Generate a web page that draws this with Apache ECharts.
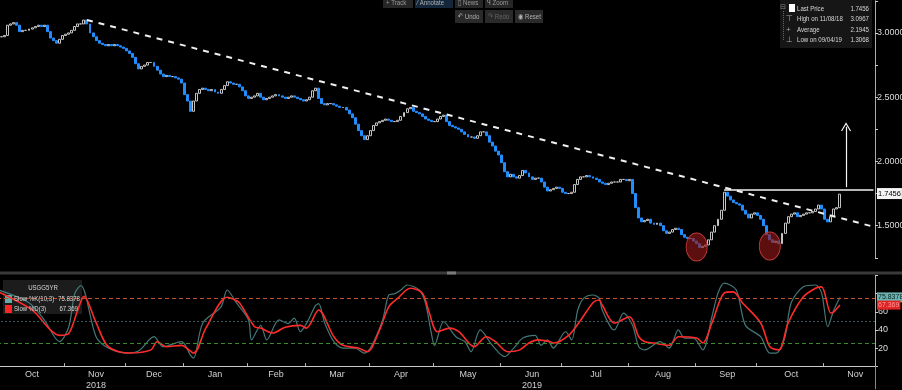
<!DOCTYPE html>
<html><head><meta charset="utf-8">
<script src="https://cdn.jsdelivr.net/npm/echarts@6/dist/echarts.min.js"></script>
<style>html,body{margin:0;padding:0;background:#000;overflow:hidden}#c{width:902px;height:390px}</style>
</head><body><div id="c"></div>
<script>
const FONT = '"Liberation Sans","DejaVu Sans",sans-serif';

// ---- calendar (trading days) ----
const startDate = '2018-10-01';
const endDate = '2019-11-26';
const holidays = ['2018-10-08','2018-11-12','2018-11-22','2018-12-05','2018-12-25','2019-01-01','2019-01-21','2019-02-18','2019-04-19','2019-05-27','2019-07-04','2019-09-02','2019-10-14','2019-11-11'];
const monthNames = ['Jan','Feb','Mar','Apr','May','Jun','Jul','Aug','Sep','Oct','Nov','Dec'];
const yearLabels = {'2018-11':'2018','2019-06':'2019'};

// ---- USGG5YR daily closes ----
const closes = [
2.97,2.97,2.98,3.06,3.07,3.08,3.06,3.01,3.02,3.02,
3.03,3.04,3.05,3.06,3.05,3.06,3.01,2.96,2.94,2.92,
2.95,2.98,2.99,3.00,3.02,3.05,3.07,3.07,3.10,3.07,
3.00,2.97,2.94,2.92,2.91,2.90,2.91,2.90,2.91,2.90,
2.89,2.88,2.86,2.84,2.81,2.76,2.72,2.74,2.75,2.77,
2.77,2.74,2.71,2.68,2.66,2.67,2.66,2.66,2.65,2.64,
2.61,2.52,2.47,2.39,2.47,2.53,2.56,2.57,2.56,2.55,
2.56,2.54,2.53,2.56,2.59,2.62,2.61,2.60,2.60,2.58,
2.55,2.51,2.49,2.50,2.51,2.53,2.50,2.48,2.49,2.50,
2.51,2.52,2.51,2.50,2.49,2.50,2.51,2.50,2.49,2.48,
2.47,2.48,2.50,2.55,2.57,2.49,2.45,2.44,2.45,2.45,
2.44,2.43,2.42,2.42,2.40,2.37,2.34,2.29,2.24,2.20,
2.17,2.20,2.24,2.28,2.30,2.31,2.32,2.33,2.32,2.31,
2.31,2.32,2.35,2.38,2.41,2.42,2.39,2.38,2.37,2.35,
2.33,2.32,2.31,2.31,2.33,2.35,2.36,2.31,2.28,2.27,
2.26,2.25,2.23,2.21,2.19,2.19,2.18,2.20,2.23,2.23,
2.20,2.15,2.12,2.08,2.05,1.99,1.92,1.88,1.90,1.88,
1.87,1.89,1.93,1.91,1.88,1.86,1.87,1.87,1.84,1.80,
1.77,1.78,1.79,1.80,1.79,1.76,1.75,1.75,1.76,1.82,
1.86,1.88,1.88,1.89,1.88,1.87,1.86,1.84,1.83,1.82,
1.83,1.84,1.84,1.84,1.86,1.86,1.85,1.86,1.75,1.64,
1.56,1.53,1.54,1.55,1.52,1.51,1.52,1.50,1.46,1.44,
1.45,1.47,1.48,1.47,1.43,1.41,1.40,1.40,1.38,1.36,
1.33,1.34,1.35,1.39,1.45,1.50,1.55,1.62,1.76,1.73,
1.70,1.68,1.67,1.66,1.62,1.59,1.56,1.59,1.60,1.58,
1.55,1.50,1.43,1.39,1.37,1.38,1.36,1.44,1.52,1.57,
1.59,1.60,1.57,1.58,1.59,1.60,1.60,1.61,1.63,1.66,
1.63,1.55,1.53,1.57,1.63,1.64,1.7456
];

// ---- Slow stochastic: [trading-day index, value] ----
const slowK = [[0,84],[10,70],[15,51],[20,27],[23,43],[25,80],[27,89],[32,32.5],[36,20],[42,14.5],[46,17],[51,32.5],[54,21.5],[60,27],[63,12],[64,9],[67,47.6],[73,65.5],[75,84],[78,70],[82,51],[83,29],[86,45],[88,29],[92,51],[95,47],[97,53],[99,38],[101,47],[104,67],[105,69],[107,47.6],[110,27],[113,20],[117,20],[120,14.5],[122,20],[126,51],[128,78.5],[130,80],[132,84],[134,89.5],[138,84],[140,70],[142,36],[143,23],[146,49],[150,32.5],[153,27],[155,16],[158,40],[162,23],[166,10.5],[169,20],[172,31],[176,34],[178,23],[180,29],[182,20],[186,38],[188,29],[190,62],[192,75],[195,78.5],[197,75],[198,62],[201,42],[202,40],[205,58.6],[208,45],[210,21.5],[212,18],[217,27],[220,20],[223,40],[225,31],[228,31],[231,18],[234,54.5],[236,80.6],[238,91.6],[242,84],[245,45],[250,32.5],[253,14.5],[255,14.5],[258,32.5],[260,70],[264,87.5],[268,89.5],[270,80.6],[272,43.5],[274,62],[276,75.8378]];
const slowD = [[0,82],[11,62],[17,40],[20,34],[23,36],[26,62],[28,77],[32,48],[36,21.5],[43,14.5],[50,18],[52,27],[55,21.5],[60,23],[64,14.5],[68,42],[75,76],[77,74],[79,70],[84,43.5],[86,42],[90,36.6],[94,43],[99,45],[101,42],[105,62],[110,32.5],[113,23],[118,20],[121,16],[125,40],[128,65.5],[131,75],[135,86],[139,80.6],[141,62],[144,38],[148,42],[151,38],[156,21.5],[160,32.5],[163,27],[167,16],[171,18],[174,25.5],[177,29],[181,27],[182,25.5],[187,34],[191,51],[195,70],[197,73],[198,67.5],[202,47.6],[207,54.5],[210,32.5],[212,27],[215,25.5],[220,23],[223,32.5],[229,31],[231,25.5],[234,47.6],[238,80.6],[241,82],[244,70],[250,47.6],[253,21.5],[256,18],[259,47.6],[264,76.5],[268,86],[270,87.5],[273,58.6],[274,60],[276,67.369]];

// ---- annotations (data coordinates) ----
const trendStart = [29, 3.101], trendEnd = [287, 1.492];
const resistance = [[238, 1.776], [287, 1.776]];
const arrowPts = [[278, 1.80], [278, 2.27]];
const lowCircles = [[229, 1.334], [253, 1.342]];
const lastPrice = 1.7456, lastK = 75.8378, lastD = 67.369;
const stochLevels = [75, 50, 25];

// ---- build ----
function tradingDays(s, e, hol) {
  const out = [], h = new Set(hol);
  const d = new Date(s + 'T00:00:00Z'), end = new Date(e + 'T00:00:00Z');
  while (d <= end) {
    const wd = d.getUTCDay(), str = d.toISOString().slice(0, 10);
    if (wd !== 0 && wd !== 6 && !h.has(str)) out.push(str);
    d.setUTCDate(d.getUTCDate() + 1);
  }
  return out;
}
const dates = tradingDays(startDate, endDate, holidays);
const monthStarts = [];
dates.forEach((d, i) => { if (i === 0 || d.slice(0, 7) !== dates[i - 1].slice(0, 7)) monthStarts.push(i); });
const monthStartSet = new Set(monthStarts);
const labelMap = {};
monthStarts.forEach((s, k) => {
  const n = k + 1 < monthStarts.length ? monthStarts[k + 1] : s + 20;
  const mid = Math.floor((s + n) / 2);
  const ym = dates[s].slice(0, 7);
  let t = monthNames[parseInt(ym.slice(5, 7), 10) - 1];
  if (yearLabels[ym]) t += '\n' + yearLabels[ym];
  labelMap[mid] = t;
});
const yearStartIdx = monthStarts.filter(i => dates[i].slice(5, 7) === '01');

const candles = closes.map((c, i) => {
  const o = i === 0 ? c : closes[i - 1];
  return [o, c, Math.min(o, c), Math.max(o, c)];
});

const chevron = 'path://M0,9 L5,0 L10,9 L9,9.6 L5,2.4 L1,9.6 Z';
const txt = (x, y, s, o, sx) => ({type: 'text', x, y, scaleX: sx || 0.76, z: 10,
  style: Object.assign({text: s, fill: '#d8d8d8', font: '8px ' + FONT, textVerticalAlign: 'middle'}, o || {})});
const hidden = {width: 0, color: 'rgba(0,0,0,0)'};

const chart = echarts.init(document.getElementById('c'), null, {renderer: 'canvas'});
chart.setOption({
  backgroundColor: '#000',
  animation: false,
  textStyle: {fontFamily: FONT},
  grid: [
    {left: -3, width: 878, top: 0.8, height: 257, outerBoundsMode: 'none', containLabel: false},
    {left: -3, width: 878, top: 275.5, height: 90.7, outerBoundsMode: 'none', containLabel: false}
  ],
  xAxis: [
    {type: 'category', gridIndex: 0, data: dates, boundaryGap: true, show: false},
    {type: 'category', gridIndex: 1, data: dates, boundaryGap: true,
      axisLine: {lineStyle: {color: '#c8c8c8', width: 1}},
      axisTick: {show: true, length: 3, inside: true, interval: (i) => monthStartSet.has(i), lineStyle: {color: '#bbb'}},
      axisLabel: {interval: (i) => labelMap[i] !== undefined, formatter: (v, i) => labelMap[i] || '', color: '#d0d0d0', fontSize: 9, fontFamily: FONT, lineHeight: 11, margin: 3},
      splitLine: {show: false}},
    {type: 'category', gridIndex: 1, data: dates, boundaryGap: true, position: 'bottom',
      axisLine: {show: false}, axisLabel: {show: false},
      axisTick: {show: true, length: 23, interval: (i) => yearStartIdx.includes(i), lineStyle: {color: '#888'}}}
  ],
  yAxis: [
    {type: 'value', gridIndex: 0, position: 'right', min: 1.25, max: 3.25, interval: 0.25,
      axisLine: {show: true, lineStyle: {color: '#aaa'}},
      axisTick: {show: true, length: 3, lineStyle: {color: '#ccc'}},
      axisLabel: {color: '#dcdcdc', fontSize: 9, fontFamily: FONT, margin: 2,
        formatter: v => Math.abs(v * 2 - Math.round(v * 2)) < 1e-6 ? v.toFixed(4) : ''},
      splitLine: {show: false}},
    {type: 'value', gridIndex: 1, position: 'right', min: 0, max: 100, interval: 20,
      axisLine: {show: true, lineStyle: {color: '#aaa'}},
      axisTick: {show: true, length: 3, lineStyle: {color: '#ccc'}},
      axisLabel: {color: '#dcdcdc', fontSize: 9, fontFamily: FONT, margin: 3,
        formatter: v => (v > 0 && v < 80) ? String(v) : ''},
      splitLine: {show: false}}
  ],
  series: [
    {type: 'candlestick', xAxisIndex: 0, yAxisIndex: 0, data: candles, barWidth: '80%',
      itemStyle: {color: '#000', color0: '#228dff', borderColor: '#c4c4c4', borderColor0: '#228dff', borderWidth: 1},
      markLine: {silent: true, symbol: ['none', 'none'], animation: false,
        data: [
          [{coord: trendStart, lineStyle: {color: '#f0f0f0', width: 2, type: [6, 6]}}, {coord: trendEnd}],
          [{coord: resistance[0], lineStyle: {color: '#f4f4f4', width: 1.5, type: 'solid'}}, {coord: resistance[1]}],
          [{coord: arrowPts[0], symbol: 'none', lineStyle: {color: '#f4f4f4', width: 1.2, type: 'solid'}}, {coord: arrowPts[1], symbol: chevron, symbolSize: [10, 9]}],
          {yAxis: lastPrice, lineStyle: hidden,
            label: {show: true, position: 'end', formatter: lastPrice.toFixed(4), backgroundColor: '#f4f4f4', color: '#000', padding: [2, 1, 1, 1], fontSize: 7.5, fontFamily: FONT, distance: 2}}
        ],
        label: {show: false}},
      markPoint: {silent: true, symbol: 'circle', symbolSize: [21, 28],
        itemStyle: {color: 'rgba(150,25,25,0.62)', borderColor: '#c23a3a', borderWidth: 1},
        label: {show: false},
        data: lowCircles.map(c => ({coord: c}))}
    },
    {type: 'line', name: 'Slow %K', xAxisIndex: 1, yAxisIndex: 1, data: slowK, smooth: 0.3, symbol: 'none',
      lineStyle: {color: '#437877', width: 1.2},
      markLine: {silent: true, symbol: ['none', 'none'], label: {show: false},
        data: [
          {yAxis: stochLevels[0], lineStyle: {color: '#c2512a', type: [4, 3], width: 1}},
          {yAxis: stochLevels[1], lineStyle: {color: '#35595a', type: [2, 2], width: 1}},
          {yAxis: stochLevels[2], lineStyle: {color: '#3c8a2c', type: [4, 3], width: 1}},
          {yAxis: lastK, lineStyle: hidden,
            label: {show: true, position: 'end', formatter: lastK.toFixed(4), backgroundColor: '#6cb3b0', color: '#082020', padding: [2, 1, 1, 1], fontSize: 7, fontFamily: FONT, distance: 2}}
        ]}},
    {type: 'line', name: 'Slow %D', xAxisIndex: 1, yAxisIndex: 1, data: slowD, smooth: 0.3, symbol: 'none',
      lineStyle: {color: '#ff2b2b', width: 1.6}, z: 3,
      markLine: {silent: true, symbol: ['none', 'none'], label: {show: false},
        data: [
          {yAxis: lastD, lineStyle: hidden,
            label: {show: true, position: 'end', formatter: String(lastD), backgroundColor: '#e02424', color: '#ff9a9a', padding: [1, 1, 1, 1], fontSize: 7, fontFamily: FONT, distance: 2}}
        ]}}
  ],
  graphic: [
    // separator between panels
    {type: 'rect', shape: {x: 0, y: 271.5, width: 902, height: 3}, style: {fill: '#3a3a3a'}},
    {type: 'rect', shape: {x: 447, y: 271.5, width: 9, height: 3}, style: {fill: '#7a7a7a'}},
    // toolbar
    {type: 'rect', shape: {x: 383, y: -3, width: 30, height: 11}, style: {fill: '#262626'}},
    {type: 'rect', shape: {x: 415, y: -3, width: 38, height: 11}, style: {fill: '#14273a'}},
    {type: 'rect', shape: {x: 455, y: -3, width: 28, height: 11}, style: {fill: '#262626'}},
    {type: 'rect', shape: {x: 485, y: -3, width: 28, height: 11}, style: {fill: '#262626'}},
    {type: 'rect', shape: {x: 455, y: 10, width: 28, height: 13}, style: {fill: '#2a2a2a'}},
    {type: 'rect', shape: {x: 485, y: 10, width: 28, height: 13}, style: {fill: '#2a2a2a'}},
    {type: 'rect', shape: {x: 515, y: 10, width: 28, height: 13}, style: {fill: '#2a2a2a'}},
    txt(386, 3, '+ Track', {fill: '#9a9a9a'}),
    txt(417, 3, '⁄ Annotate', {fill: '#b0b0b0'}),
    txt(458, 3, '▯ News', {fill: '#9a9a9a'}),
    txt(487, 3, 'ᑫ Zoom', {fill: '#9a9a9a'}),
    txt(458, 16.5, '↶ Undo', {fill: '#b0b0b0'}),
    txt(488, 16.5, '↷ Redo', {fill: '#666'}),
    txt(518, 16.5, '◉ Reset', {fill: '#b0b0b0'}),
    // info box
    {type: 'rect', shape: {x: 780, y: -2, width: 92, height: 50}, style: {fill: '#161616'}},
    {type: 'line', shape: {x1: 783.5, y1: 11, x2: 783.5, y2: 40}, style: {stroke: '#666', lineWidth: 1, lineDash: [1, 1]}},
    txt(780, 7, '⊟', {fill: '#888', font: '7px ' + FONT}, 1),
    {type: 'rect', shape: {x: 789, y: 4, width: 6, height: 8}, style: {fill: '#fff'}},
    txt(786, 19, '⊤', {fill: '#aaa'}, 1),
    txt(786, 29.3, '+', {fill: '#aaa'}, 1),
    txt(786, 39.5, '⊥', {fill: '#aaa'}, 1),
    txt(797, 8.3, 'Last Price'), txt(869, 8.3, '1.7456', {textAlign: 'right'}),
    txt(797, 19, 'High on 11/08/18'), txt(869, 19, '3.0967', {textAlign: 'right'}),
    txt(797, 29.3, 'Average'), txt(869, 29.3, '2.1945', {textAlign: 'right'}),
    txt(797, 39.5, 'Low on 09/04/19'), txt(869, 39.5, '1.3068', {textAlign: 'right'}),
    // stochastic legend
    {type: 'rect', shape: {x: 3, y: 280, width: 79, height: 34}, style: {fill: '#1c1c1c'}},
    txt(43, 288, 'USGG5YR', {textAlign: 'center'}),
    {type: 'rect', shape: {x: 5, y: 295, width: 7, height: 8}, style: {fill: '#62a9a6'}},
    txt(14, 299, 'Slow %K(10,3)'), txt(80, 299, '75.8378', {textAlign: 'right'}),
    {type: 'rect', shape: {x: 5, y: 305, width: 7, height: 8}, style: {fill: '#ff2424'}},
    txt(14, 309, 'Slow %D(3)'), txt(78, 309, '67.369', {textAlign: 'right'})
  ]
});
</script></body></html>
